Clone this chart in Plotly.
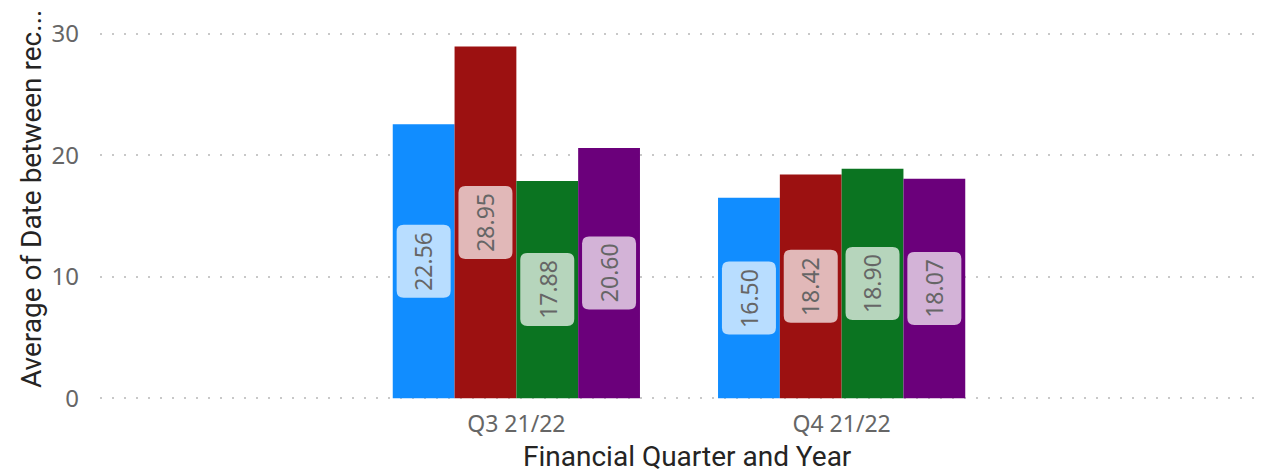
import plotly.graph_objects as go

categories = ["Q3 21/22", "Q4 21/22"]
series_names = ["Series A", "Series B", "Series C", "Series D"]
series_values = [
    [22.56, 16.50],
    [28.95, 18.42],
    [17.88, 18.90],
    [20.60, 18.07],
]
colors = ["#118DFF", "#9C1111", "#0B7421", "#6B007B"]
y_ticks = [0, 10, 20, 30]
x_title = "Financial Quarter and Year"
y_title = "Average of Date between rec..."

bargap = 0.24
n = len(series_values)
bw = (1 - bargap) / n

fig = go.Figure()
for name, vals, col in zip(series_names, series_values, colors):
    fig.add_trace(go.Bar(x=categories, y=vals, name=name, marker_color=col,
                         marker_line_width=0, showlegend=False))


def rounded_rect(w, h, r):
    x0, x1, y0, y1 = -w / 2, w / 2, -h / 2, h / 2
    return (f"M {x0 + r},{y0} L {x1 - r},{y0} Q {x1},{y0} {x1},{y0 + r} "
            f"L {x1},{y1 - r} Q {x1},{y1} {x1 - r},{y1} L {x0 + r},{y1} "
            f"Q {x0},{y1} {x0},{y1 - r} L {x0},{y0 + r} Q {x0},{y0} {x0 + r},{y0} Z")


for si, vals in enumerate(series_values):
    off = -(1 - bargap) / 2 + bw * (si + 0.5)
    for ci, v in enumerate(vals):
        xc = ci + off
        fig.add_shape(type="path", xref="x", yref="y", xsizemode="pixel", ysizemode="pixel",
                      xanchor=xc, yanchor=v / 2, path=rounded_rect(54, 73, 7),
                      fillcolor="rgba(255,255,255,0.7)", line_width=0, layer="above")
        fig.add_annotation(x=xc, y=v / 2, xref="x", yref="y", text=f"{v:.2f}",
                           textangle=-90, showarrow=False,
                           font=dict(family="Noto Sans", size=23, color="#666666"))

# axis titles
fig.add_annotation(text=x_title, xref="paper", yref="paper", x=0.507, y=0,
                   xanchor="center", yanchor="middle", yshift=-56, showarrow=False,
                   borderpad=0,
                   font=dict(family="Roboto", size=28, color="#252423"))
fig.add_annotation(text=y_title, xref="paper", yref="paper", x=0, y=0.546,
                   xanchor="center", yanchor="middle", xshift=-69, textangle=-90,
                   showarrow=False, borderpad=0,
                   font=dict(family="Roboto", size=28, color="#252423"))

fig.update_layout(
    width=1264, height=472,
    margin=dict(l=100, r=6, t=32, b=72, autoexpand=False),
    plot_bgcolor="white", paper_bgcolor="white",
    barmode="group", bargap=bargap, bargroupgap=0,
    font=dict(family="Noto Sans", color="#666666"),
    xaxis=dict(range=[-1.28, 2.28], showgrid=False, showline=False, zeroline=False,
               automargin=False, ticks="", ticklabelstandoff=8,
               tickfont=dict(size=23, color="#666666")),
    yaxis=dict(range=[-0.15, 30.15], tickvals=y_ticks, showgrid=True, gridcolor="#C8C8C8",
               gridwidth=2, griddash="2px,10px", zeroline=False, showline=False,
               automargin=False, ticks="", ticklabelstandoff=20,
               tickfont=dict(size=24, color="#666666")),
)

fig.write_html("out.html", config={"displayModeBar": False},
               post_script="document.body.style.margin='0';document.body.style.overflow='hidden';")
